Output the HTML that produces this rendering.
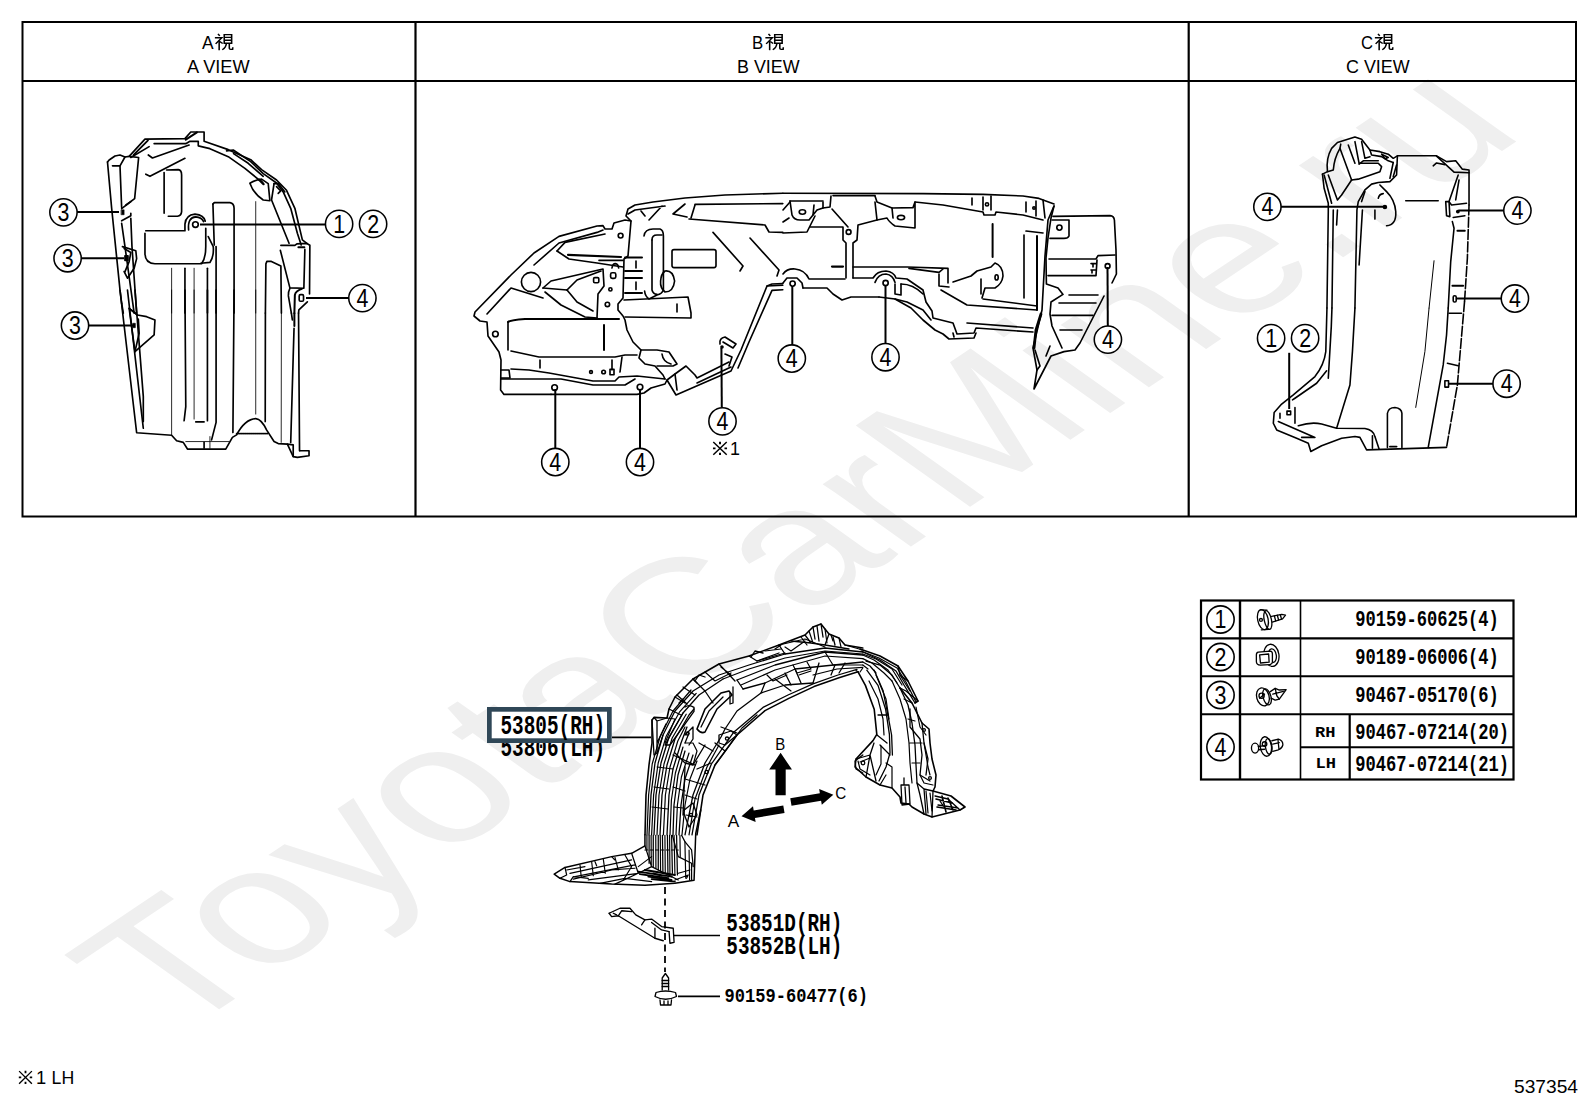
<!DOCTYPE html>
<html><head><meta charset="utf-8"><title>537354</title>
<style>
html,body{margin:0;padding:0;background:#fff;}
body{width:1592px;height:1099px;overflow:hidden;font-family:"Liberation Sans",sans-serif;}
svg{display:block;}
svg text{font-family:"Liberation Sans",sans-serif;fill:#000;}
.mono{font-family:"Liberation Mono",monospace;}
.ln{fill:none;stroke:#000;stroke-linecap:round;stroke-linejoin:round;}
</style></head><body>
<svg width="1592" height="1099" viewBox="0 0 1592 1099">
<!-- 00_watermark.svg -->
<g transform="translate(796,549.5) scale(1.4486,1) rotate(-44.1)">
<text x="1.7" y="53" text-anchor="middle" font-size="164.8" style="fill:#efefef">ToyotaCarMine.ru</text>
</g>

<!-- 01_frame.svg -->
<g fill="none" stroke="#000">
<rect x="22.5" y="22" width="1553.5" height="494.5" stroke-width="2"/>
<line x1="22" y1="81" x2="1576" y2="81" stroke-width="2"/>
<line x1="415.5" y1="22" x2="415.5" y2="516" stroke-width="2.2"/>
<line x1="1188.7" y1="22" x2="1188.7" y2="516" stroke-width="2.2"/>
</g>
<defs>
<g id="kanji" fill="none" stroke="#000" stroke-width="8" stroke-linecap="butt">
<path d="M22,2 L31,14"/>
<path d="M6,25 L42,25 L10,62"/>
<path d="M28,42 L28,100"/>
<path d="M31,48 L46,60"/>
<path d="M54,6 L92,6 L92,58 L54,58 Z"/>
<path d="M54,23 L92,23 M54,40 L92,40"/>
<path d="M65,58 Q64,84 44,97"/>
<path d="M80,58 L80,88 Q80,95 87,95 L97,95 L98,82"/>
</g>
<g id="komeg" fill="none" stroke="#000" stroke-width="9">
<path d="M8,8 L92,92 M92,8 L8,92"/>
<path d="M50,6 L50,22 M50,78 L50,94 M6,50 L22,50 M78,50 L94,50" stroke-width="12"/>
</g>
</defs>
<g font-size="18.9">
<text x="202" y="48.8" font-size="18.4" textLength="11.6" lengthAdjust="spacingAndGlyphs">A</text><use href="#kanji" transform="translate(213.7,33.6) scale(0.195,0.166)"/>
<text x="187" y="72.5" textLength="62.6" lengthAdjust="spacingAndGlyphs">A VIEW</text>
<text x="752" y="48.8" font-size="18.4" textLength="11.2" lengthAdjust="spacingAndGlyphs">B</text><use href="#kanji" transform="translate(764.2,33.6) scale(0.195,0.166)"/>
<text x="737" y="72.5" textLength="62.6" lengthAdjust="spacingAndGlyphs">B VIEW</text>
<text x="1361" y="48.8" font-size="18.4" textLength="12" lengthAdjust="spacingAndGlyphs">C</text><use href="#kanji" transform="translate(1373.7,33.6) scale(0.195,0.166)"/>
<text x="1346" y="72.5" textLength="63.6" lengthAdjust="spacingAndGlyphs">C VIEW</text>
</g>

<!-- 02_table.svg -->
<g fill="none" stroke="#000">
<rect x="1201" y="600.5" width="312.5" height="179" stroke-width="2.2"/>
<line x1="1240" y1="600" x2="1240" y2="780" stroke-width="2.4"/>
<line x1="1300.5" y1="600" x2="1300.5" y2="780" stroke-width="1.6"/>
<line x1="1349.7" y1="714" x2="1349.7" y2="780" stroke-width="2.2"/>
<line x1="1201" y1="638.3" x2="1513" y2="638.3" stroke-width="2.2"/>
<line x1="1201" y1="676.3" x2="1513" y2="676.3" stroke-width="2"/>
<line x1="1201" y1="714.3" x2="1513" y2="714.3" stroke-width="2"/>
<line x1="1300.5" y1="747.3" x2="1513" y2="747.3" stroke-width="2"/>
</g>
<g fill="none" stroke="#000" stroke-width="1.6">
<circle cx="1220.5" cy="619.5" r="13.65"/>
<circle cx="1220.5" cy="657" r="13.65"/>
<circle cx="1220.5" cy="695" r="13.65"/>
<circle cx="1220.5" cy="747" r="13.65"/>
</g>
<g class="cn" font-size="24.9" text-anchor="middle">
<text transform="translate(1220.5,628.10) scale(0.86,1)">1</text>
<text transform="translate(1220.5,665.60) scale(0.86,1)">2</text>
<text transform="translate(1220.5,703.60) scale(0.86,1)">3</text>
<text transform="translate(1220.5,755.60) scale(0.86,1)">4</text>
</g>
<g class="mono" font-weight="bold" font-size="16.8">
<text class="mono" transform="translate(1355.3,626.4) scale(1,1.32)" textLength="143.5" lengthAdjust="spacingAndGlyphs">90159-60625(4)</text>
<text class="mono" transform="translate(1355.3,664.4) scale(1,1.32)" textLength="143.5" lengthAdjust="spacingAndGlyphs">90189-06006(4)</text>
<text class="mono" transform="translate(1355.3,702.0) scale(1,1.32)" textLength="143.5" lengthAdjust="spacingAndGlyphs">90467-05170(6)</text>
<text class="mono" transform="translate(1355.3,738.5) scale(1,1.32)" textLength="153.7" lengthAdjust="spacingAndGlyphs">90467-07214(20)</text>
<text class="mono" transform="translate(1355.3,770.5) scale(1,1.32)" textLength="153.7" lengthAdjust="spacingAndGlyphs">90467-07214(21)</text>
</g>
<g class="mono" font-weight="bold" font-size="15.5">
<text class="mono" x="1315" y="736.6" textLength="20.5" lengthAdjust="spacingAndGlyphs">RH</text>
<text class="mono" x="1315.5" y="768" textLength="20.5" lengthAdjust="spacingAndGlyphs">LH</text>
</g>

<!-- 03_icons.svg -->
<g class="ln" transform="translate(1240,600) scale(0.16367)" stroke-width="8">
<!-- screw -->
<ellipse cx="140" cy="120" rx="32" ry="62" transform="rotate(-12 140 120)"/>
<ellipse cx="170" cy="122" rx="22" ry="58" transform="rotate(-12 170 122)"/>
<circle cx="128" cy="122" r="9"/>
<path d="M125,60 L165,62 M130,182 L175,180"/>
<path d="M193,100 L255,88 L278,92 L260,115 L197,135"/>
<path d="M210,97 L218,128 M228,93 L236,122 M246,90 L254,117"/>
<!-- clip nut -->
<ellipse cx="192" cy="338" rx="46" ry="68" transform="rotate(-8 192 338)"/>
<ellipse cx="198" cy="340" rx="24" ry="42" transform="rotate(-8 198 340)"/>
<path d="M112,318 L185,312 Q198,314 198,328 L198,380 Q196,394 182,395 L125,398 Q100,396 100,375 L100,335 Q100,320 112,318 Z" fill="#fff"/>
<path d="M120,335 L175,330 L178,380 L125,385 Z"/>
<!-- push rivet -->
<ellipse cx="140" cy="592" rx="38" ry="56" transform="rotate(-15 140 592)"/>
<ellipse cx="165" cy="592" rx="24" ry="50" transform="rotate(-15 165 592)"/>
<circle cx="132" cy="585" r="16"/>
<path d="M120,600 L150,575"/>
<path d="M185,560 L215,540 L240,550 L282,548 L240,605 L215,612 L190,600"/>
<path d="M200,575 L265,558 M215,540 L225,585 L240,605"/>
<!-- pin rivet -->
<ellipse cx="92" cy="905" rx="22" ry="30"/>
<ellipse cx="158" cy="895" rx="34" ry="60" transform="rotate(-8 158 895)"/>
<ellipse cx="175" cy="895" rx="20" ry="48" transform="rotate(-8 175 895)"/>
<path d="M112,895 L150,890 M114,915 L150,912"/>
<circle cx="150" cy="880" r="14"/>
<path d="M195,860 L235,850 Q262,858 262,885 Q258,905 235,915 L200,925"/>
<path d="M232,852 L238,912 M200,880 L240,872"/>
</g>

<!-- 10_viewA.svg -->
<g class="ln" transform="translate(95,130) scale(0.16656)" stroke-width="10">
<!-- outer top outline -->
<path d="M75,192 L85,180 L120,156 L150,150 L180,162 L205,158 L300,55 L540,52 L575,12 L655,12 L655,68 L800,118 L935,178 L1000,238 L1090,300 L1150,362 L1200,470 L1245,660 L1272,681"/>
<path d="M545,58 L612,14" stroke-width="12"/>
<path d="M355,82 L545,82 L570,68 L620,68 L620,95 L690,112 L800,160 L900,230 L985,300"/>
<path d="M790,125 L830,120 L935,190 L1010,262 L1090,318 L1130,372 L1175,470 L1215,620 L1238,690"/>
<path d="M832,142 L920,200 L1010,278"/>
<path d="M215,165 L325,100" />
<path d="M232,150 L318,62" stroke-width="11"/>
<!-- left top block -->
<path d="M75,192 L100,470 L150,960 L160,1040"/>
<path d="M105,215 L150,215 L180,162"/>
<path d="M150,215 L160,465"/>
<path d="M205,158 L262,165 L238,412 L185,452 L160,472"/>
<path d="M185,452 L215,430"/>
<!-- crease lines -->
<path d="M320,150 L345,168 L565,90"/>
<path d="M305,265 L330,278 L540,170"/>
<!-- slot upper left -->
<path d="M415,255 L415,500"/>
<path d="M430,240 L500,238 Q520,240 520,270 L520,490 Q518,515 495,518 L440,518"/>
<!-- pocket -->
<path d="M305,605 L540,605 L540,565 Q545,510 600,505 Q655,510 662,548"/>
<path d="M300,620 L300,740 Q300,800 360,803 L640,803 Q665,770 665,700 L665,590"/>
<path d="M635,800 L690,795 Q715,760 710,700 L680,640"/>
<circle cx="603" cy="568" r="17"/>
<path d="M562,600 Q555,525 605,522 Q640,525 652,550"/>
<!-- center slot -->
<path d="M708,445 L716,436 L810,436 Q835,440 835,470 L835,1099"/>
<path d="M708,445 L716,690"/>
<path d="M727,700 L727,1099"/>
<path d="M965,430 L965,1099" stroke-width="5"/>
<path d="M460,830 L460,1099" stroke-width="5"/>
<path d="M540,830 L540,1099"/>
<path d="M595,830 L595,1099" stroke-width="5"/>
<path d="M675,830 L675,1099"/>
<!-- right wedge -->
<path d="M930,320 Q960,300 1000,295 L1040,322 L1050,425 L1010,420 Q950,380 930,320"/>
<path d="M985,298 L1012,325 L1000,310 Z" stroke-width="14"/>
<path d="M1075,322 L1100,320 L1140,372"/>
<path d="M1075,322 L1060,420 L1165,680"/>
<path d="M1090,340 L1115,365 L1100,380"/>
<!-- right lower -->
<path d="M1116,693 L1200,693 L1212,684 L1272,681 L1290,692 L1288,984"/>
<path d="M1221,704 L1257,704" stroke-width="12"/>
<path d="M1113,723 L1170,948 L1254,950 L1260,717"/>
<path d="M1170,951 Q1158,975 1161,996 L1179,1099"/>
<path d="M1242,954 Q1205,965 1200,990 L1197,1099" stroke-width="12"/>
<rect x="1226" y="988" width="26" height="40" rx="8"/>
<path d="M1275,1032 L1224,1080 L1222,1099"/>
<path d="M1023,1099 L1026,804 L1032,789 L1059,789 L1116,816 L1119,1099"/>
<!-- left tabs -->
<rect x="158" y="479" width="17" height="30" fill="#000" stroke-width="3"/>
<path d="M160,545 L215,515 L215,500"/>
<path d="M165,700 L245,725 L250,772 L235,830 L195,890 L175,850"/>
<path d="M175,712 L215,735 L205,790 L180,850"/>
<rect x="180" y="755" width="18" height="28" fill="#000"/>
<path d="M160,560 L180,700 L235,1099"/>
<path d="M215,530 L222,700 L250,1099"/>
<path d="M160,1040 L170,1099"/>
</g>
<g class="ln" transform="translate(95,290) scale(0.16656)" stroke-width="10">
<path d="M150,0 L250,857 L460,872 L490,905 L530,915 L555,955 L785,955 L825,885 L850,870 Q900,775 965,772 Q1000,775 1030,840 L1075,910 L1100,922 L1155,925 L1190,1000 L1215,1005 L1285,995 L1285,965 L1230,965"/>
<path d="M195,0 L290,830" />
<path d="M240,0 L290,640 L290,790" />
<path d="M205,110 L240,370 L355,270 L360,180 L310,160 L255,150 Z"/>
<path d="M205,110 L255,150"/>
<path d="M260,175 L265,260 L240,370"/>
<rect x="228" y="200" width="14" height="26" fill="#000" stroke-width="4"/>
<path d="M460,0 L460,872" stroke-width="5"/>
<path d="M540,0 L545,700 L535,785"/>
<path d="M595,0 L595,775" stroke-width="5"/>
<path d="M675,0 L675,785"/>
<path d="M727,0 L727,795 L700,900"/>
<path d="M835,0 L828,855"/>
<path d="M965,0 L965,745" stroke-width="5"/>
<path d="M1023,139 L1022,790"/>
<path d="M1119,139 L1118,915" stroke-width="5"/>
<path d="M1179,139 L1185,180"/>
<path d="M1197,139 L1197,216" stroke-width="12"/>
<path d="M1195,230 L1190,400 L1175,915"/>
<path d="M1222,139 L1228,965"/>
<path d="M605,792 L655,792" stroke-width="10"/>
<path d="M545,910 L805,910" stroke-width="5"/>
<path d="M655,915 L655,950" stroke-width="10"/>
<path d="M690,880 L690,950" stroke-width="5"/>
<path d="M850,862 L1040,862" stroke-dasharray="6,6"/>
<path d="M1155,925 L1190,930 L1190,1000"/>
</g>

<!-- 20_viewB.svg -->
<g class="ln" transform="translate(465,190) scale(0.2)" stroke-width="8.2">
<!-- outer outline left part -->
<path d="M1589,16 L1300,25 L1100,40 L940,60 L850,75 L815,95 L805,130 L830,155 L800,150 L745,165 L735,195 L700,195 L690,178 L660,180 L470,232 L345,315 L230,425 L50,610 L45,630 L75,655 L110,660 L115,730 L170,810 L180,850 L178,1000 L195,1022 L430,1022"/>
<path d="M430,1022 L860,1022 L895,1015 L930,990 L1000,970 L1010,950 L1055,1025 L1330,905 L1380,800 L1510,480 L1589,476"/>
<circle cx="448" cy="988" r="14" fill="#fff"/>
<circle cx="875" cy="985" r="14" fill="#fff"/>
<!-- top inner -->
<path d="M1150,72 L1589,68"/>
<path d="M1120,145 L1500,175 L1520,210 L1589,212"/>
<path d="M850,100 L1000,80 M880,105 L900,130 M985,80 L920,150 M1100,70 L1040,120 L1110,135 M1150,75 L1130,140 M815,120 L850,100"/>
<!-- left wing inner -->
<path d="M345,375 L470,265 L660,212 L690,200"/>
<path d="M110,620 L230,490 L390,540"/>
<path d="M460,305 L500,262 L700,220"/>
<path d="M460,305 L520,345 L660,365 L790,385"/>
<path d="M515,324 L780,335" stroke-width="11"/>
<path d="M670,352 L790,352"/>
<circle cx="330" cy="460" r="48"/>
<path d="M390,490 L430,455 L690,395 L695,480 L665,520 L660,640"/>
<path d="M390,490 L510,500"/>
<path d="M400,510 L480,575 L600,635 L660,640"/>
<path d="M510,500 L560,450 L680,405"/>
<path d="M510,500 L560,560 L640,605"/>
<circle cx="778" cy="228" r="12"/>
<path d="M735,390 Q738,368 752,368 Q766,370 768,390"/>
<rect x="728" y="414" width="26" height="28" rx="8"/>
<rect x="643" y="438" width="26" height="26" rx="6"/>
<circle cx="727" cy="497" r="8"/>
<circle cx="712" cy="572" r="11"/>
<circle cx="152" cy="720" r="14"/>
<path d="M830,155 L815,330 L795,345 L790,540 L765,570 L765,600 L790,630 L800,650 L810,700 L840,760 L880,800 L870,840 L900,870 L950,880 L990,925 L1000,945"/>
<path d="M215,660 Q225,650 300,645 L770,645" stroke-width="10"/>
<path d="M215,660 L215,800"/>
<path d="M230,805 L370,835 L750,835 L800,825 L860,825"/>
<path d="M695,675 L695,800" stroke-width="10"/>
<path d="M375,850 L375,890 M735,850 L735,900 M785,835 L775,910"/>
<path d="M180,900 L220,900 L225,940 L180,940"/>
<path d="M230,895 L320,900 L420,915 L640,955 L750,955 L770,935 L860,930 L1000,945"/>
<path d="M180,945 L480,945 L640,975 L800,975 L850,945"/>
<circle cx="630" cy="910" r="7"/>
<circle cx="693" cy="910" r="9"/>
<rect x="725" y="896" width="20" height="28"/>
<!-- middle -->
<path d="M895,230 Q900,195 940,195 L975,195 Q992,200 992,230 L992,500 Q985,520 960,525 L920,545 Q900,530 898,505"/>
<path d="M935,250 Q935,225 960,225 L985,225"/>
<path d="M935,250 L935,500 Q940,520 960,522"/>
<path d="M800,338 L885,338 M800,405 L885,405 M800,440 L885,440 M800,515 L885,515" stroke-width="10"/>
<path d="M855,355 L855,390 M855,460 L855,498"/>
<rect x="1035" y="298" width="220" height="90" rx="10"/>
<path d="M1000,405 Q1040,400 1048,455 Q1042,510 1000,510 Q975,490 978,455 Q980,420 1000,405"/>
<path d="M795,550 L1115,535 L1130,615 L1130,640 L800,635"/>
<path d="M1060,570 L1060,610"/>
<path d="M1240,212 L1390,380 L1375,405"/>
<path d="M1425,240 L1570,400 L1560,430"/>
<path d="M1510,480 L1535,470 L1589,468"/>
<path d="M1365,890 L1420,760 L1535,502 L1589,499"/>
<path d="M880,800 L960,800 L1020,810 L1060,870 L1040,880 L960,880"/>
<path d="M985,820 Q990,860 1030,870"/>
<path d="M1010,950 L1050,920 L1105,880 L1150,925 L1160,940 L1320,860"/>
<path d="M1050,920 L1060,1000"/>
<path d="M1160,965 L1330,885"/>
<path d="M1275,770 Q1270,740 1300,735 L1355,770 L1340,790 L1290,760"/>
<circle cx="1285" cy="785" r="5" fill="#000"/>
<path d="M1300,820 L1335,835 L1320,880"/>
</g>
<g class="ln" transform="translate(783,190) scale(0.2)" stroke-width="8.2">
<path d="M0,16 L700,18 L1000,22 L1200,30 L1280,42 L1355,70"/>
<path d="M250,28 L460,28"/>
<path d="M660,60 L800,75 L1000,110 L1005,125 L1060,125 L1065,110 L1200,125 L1300,150"/>
<!-- left bracket -->
<path d="M35,55 L45,125 Q55,150 85,150 L130,150 L170,100 L200,90 L235,85 L240,30"/>
<path d="M35,55 L200,55"/>
<path d="M0,100 L35,60 M0,160 L30,140"/>
<path d="M0,215 L120,210 L160,130"/>
<ellipse cx="97" cy="110" rx="16" ry="11"/>
<path d="M155,75 L150,125 M200,60 L200,90"/>
<!-- center bracket -->
<path d="M245,95 L325,185"/>
<circle cx="328" cy="210" r="12"/>
<path d="M460,30 L470,60 L545,90 L550,140"/>
<path d="M460,60 L470,150 L375,175 L370,250 L350,265 L350,440"/>
<path d="M135,185 L300,185 L300,250 L315,265 L315,440"/>
<!-- right bracket -->
<path d="M545,90 L650,88 L660,60 L660,190 L560,180 Q530,160 520,140 L470,150"/>
<ellipse cx="590" cy="138" rx="18" ry="11"/>
<!-- verticals -->
<path d="M1048,170 L1048,335" stroke-width="10"/>
<path d="M1205,225 L1205,540"/>
<path d="M1270,230 L1270,600" stroke-width="10"/>
<path d="M1215,205 L1300,215"/>
<path d="M945,40 L945,75 M1000,35 L1000,100 M1040,30 L1040,100 M1215,60 L1215,110 M1265,55 L1265,130 M1300,50 L1310,140"/>
<circle cx="1020" cy="72" r="8"/>
<circle cx="1255" cy="90" r="6"/>
<!-- lower mid -->
<path d="M350,385 L620,385 L825,392 L825,465"/>
<path d="M630,392 L780,412 L800,395"/>
<path d="M780,420 L780,480 L830,485"/>
<path d="M790,500 L920,575 L1270,600"/>
<path d="M850,460 L940,430 L970,405 L1040,385 L1060,365 Q1100,380 1100,430 Q1095,470 1060,490 L1010,490 L995,540"/>
<ellipse cx="1068" cy="437" rx="8" ry="13"/>
<path d="M990,445 L990,520"/>
<path d="M1000,545 L1270,580"/>
<!-- arches -->
<path d="M0,420 Q20,392 60,395 Q110,400 130,445 L310,445"/>
<circle cx="48" cy="468" r="13"/>
<path d="M0,465 L20,440 L70,440 L95,465 L100,490"/>
<path d="M100,490 L220,490 L250,520 L295,550 L340,535 L480,535"/>
<path d="M245,383 L300,383" stroke-width="11"/>
<path d="M350,440 L450,440 Q470,405 515,405 Q555,410 565,440 L620,445 L700,500 L715,560 L745,605 L750,640 L850,665 L870,720 L955,715 L965,690 L1250,710"/>
<circle cx="513" cy="465" r="13"/>
<path d="M460,462 Q475,420 515,420 Q550,425 560,462"/>
<path d="M480,535 L560,545 L640,590 L700,650 L760,700 L800,720 L830,745 L955,740 L965,715"/>
<path d="M560,470 L560,520 L590,525 L590,470"/>
<path d="M560,545 L620,560 L700,600 L740,650"/>
<path d="M590,470 Q650,470 700,520"/>
<path d="M920,665 L1250,690"/>
<path d="M850,715 L855,735"/>
</g>
<g class="ln" transform="translate(960,190) scale(0.2)" stroke-width="8.2">
<path d="M465,132 L750,128 Q770,130 772,150 L780,300 L782,420 L760,465"/>
<path d="M460,150 L545,150 L545,230 Q540,242 520,242 L450,242"/>
<circle cx="497" cy="188" r="13"/>
<path d="M445,345 L680,345 L690,328 L775,325"/>
<path d="M440,428 L680,428 L685,350"/>
<path d="M655,368 L680,368 M655,400 L680,400 M665,368 L665,385 M660,400 L660,415"/>
<circle cx="738" cy="380" r="12" fill="#fff"/>
<path d="M470,80 L455,140 L440,240 L430,340 L432,470 L490,490 L515,522 L455,560 L450,620 L460,680 L510,790"/>
<path d="M470,80 L440,150 L425,330 L410,600 L365,790 L385,900 L370,995 L455,830 L520,808 L575,800 L600,765 L720,530"/>
<path d="M545,525 L690,525 M495,565 L680,565 M460,627 L665,627 M500,700 L610,700"/>
<path d="M405,620 L380,700 L370,790" stroke-width="14"/>
<path d="M375,800 L400,880 L385,900"/>
<path d="M450,780 L430,830"/>
</g>

<!-- 30_viewC.svg -->
<g class="ln" transform="translate(1255,125) scale(0.16656)" stroke-width="9.5">
<path d="M405,295 L435,280 Q425,200 460,140 L495,105 L600,72 L640,85 L690,150 L750,160 L800,175 L830,200 L855,185 L1090,185 L1150,220 L1205,215 L1245,265 L1285,270 L1285,480"/>
<path d="M405,295 L415,380 L440,470 L440,520 L432,1099"/>
<path d="M435,280 L470,270 Q475,200 510,140 L515,115"/>
<path d="M510,140 L580,330"/>
<path d="M560,120 L600,230"/>
<path d="M600,100 L625,230 L740,230 L760,250 L750,280 L620,325 L580,330"/>
<path d="M640,100 L660,200 L690,190"/>
<path d="M690,150 L700,180 L760,190 L800,215 L830,225"/>
<path d="M625,235 L650,215 L740,215"/>
<path d="M760,175 L800,195 L780,202 Z"/>
<path d="M855,185 L850,300 L810,340 L740,345 L700,355 L660,390 L620,460 L612,510 L600,1099"/>
<path d="M830,225 L810,320 M850,240 L830,310"/>
<path d="M415,300 L460,470"/>
<path d="M440,300 L495,450 L520,420 L560,360 L580,330"/>
<path d="M470,510 L462,1099"/>
<path d="M495,510 L490,600"/>
<path d="M645,510 L625,840"/>
<path d="M660,400 L640,460"/>
<path d="M750,360 L790,400 Q840,450 845,520 Q850,600 790,605"/>
<path d="M740,440 Q745,415 770,412"/>
<path d="M720,510 L720,565"/>
<circle cx="780" cy="492" r="9" fill="#000"/>
<path d="M905,455 L1100,455"/>
<path d="M1090,187 L1195,283 L1285,287"/>
<path d="M1070,245 L1090,228 L1140,238"/>
<path d="M1220,300 L1165,460 L1180,480 L1270,470"/>
<path d="M1225,330 L1205,450"/>
<path d="M1145,460 L1165,460 L1170,550 L1150,545 Z"/>
<circle cx="1218" cy="520" r="7" fill="#000"/>
<path d="M1190,555 L1260,545"/>
<path d="M1215,635 L1260,635" stroke-width="11"/>
<path d="M1185,580 L1195,620 L1175,820 L1160,1099"/>
<path d="M1285,480 L1275,800 L1258,1060" stroke-dasharray="60,14"/>
<path d="M1185,965 L1250,965" stroke-width="11"/>
<rect x="1190" y="1025" width="18" height="38" rx="8"/>
<path d="M1075,815 L1045,1099" stroke-width="6"/>
</g>
<g class="ln" transform="translate(1255,285) scale(0.16656)" stroke-width="9.5">
<path d="M432,139 L425,400 Q415,480 360,550 L230,660 L160,715 L115,765 L110,830 L130,870 L250,920 L320,950 L335,1000 L400,965 L520,920 L600,910 L630,915 L670,990 L1150,975"/>
<path d="M462,139 L458,250 L440,560"/>
<path d="M430,515 L370,590 L240,680 L225,690"/>
<path d="M600,139 L585,400 L570,600 L490,860"/>
<path d="M1045,139 L1020,400 L965,735" stroke-width="6"/>
<path d="M1160,139 L1150,300 L1130,480 L1040,975"/>
<path d="M1258,100 L1215,600 L1150,975" stroke-dasharray="60,14"/>
<path d="M1165,170 L1240,170"/>
<path d="M1155,470 L1220,485"/>
<rect x="1140" y="575" width="22" height="38"/>
<path d="M260,845 Q340,820 400,835 L490,860 L660,862 Q710,870 720,910 L745,985"/>
<path d="M140,820 L360,915 L280,915"/>
<path d="M150,770 L150,800 M240,735 L240,830 M705,905 L705,980"/>
<path d="M795,975 L795,770 Q800,735 840,735 Q880,740 882,770 L882,975"/>
<path d="M810,970 L850,970" stroke-width="11"/>
<rect x="192" y="757" width="22" height="22" fill="#fff"/>
</g>

<!-- 40_main.svg -->
<g class="ln" transform="translate(545,615) scale(0.2)" stroke-width="6.5">
<path d="M500,1099 L505,900 L520,750 L535,640 L535,525 L545,512 L610,515 L620,470 L650,410 L740,320 L870,245 L1020,205 L1170,150 L1300,100 L1340,60 L1380,45 L1420,95 L1470,115 L1500,150 L1589,165" stroke-width="8"/>
<path d="M535,525 L545,700 L560,690 L560,530 L610,515 M560,530 L545,512 M560,640 L605,545"/>
<path d="M520,1099 L530,900 L550,740 L590,600 L650,480 L740,380 L870,300 L1020,250 L1200,195 L1400,165 L1589,185"/>
<path d="M545,1099 L555,900 L580,740 L620,610 L690,490 L770,400 L890,320"/>
<path d="M575,1099 L585,900 L610,750 L650,620 L720,500 L745,470"/>
<path d="M610,1099 L620,900 L640,770 L680,640 L710,560"/>
<path d="M640,1099 L645,950 L665,800 L700,680"/>
<path d="M670,1099 L680,950 L700,820 L740,700"/>
<path d="M700,460 Q720,445 745,462 L745,482 L625,650 L600,650 L690,490"/>
<path d="M760,570 L800,470 L880,390 L920,380 L935,400 L860,470 L800,585 Q780,595 760,570" stroke-width="8"/>
<path d="M780,560 L820,480 L890,410"/>
<path d="M960,325 L1150,250 L1400,185 L1589,200"/>
<path d="M990,370 L1100,340 L1250,270 L1589,235"/>
<path d="M960,325 L990,370 M940,360 L940,440 L925,445 L925,390"/>
<path d="M760,1099 L790,900 L850,750 L960,600 L1100,478 L1219,417 L1345,358 L1470,314 L1565,284" stroke-width="8"/>
<path d="M735,1099 L770,900 L832,745 L942,588 L1090,462 L1215,400 L1340,344 L1465,300 L1560,272"/>
<path d="M700,1099 L740,900 L800,740 L880,610 L900,570 L960,480 L1080,390 L1200,350 L1340,340"/>
<path d="M660,400 L710,445 M740,320 L800,380 L840,440 M870,245 L950,330 M690,420 L670,440 M880,560 L960,590 M850,640 L900,680 M830,740 L760,770 M770,640 L840,680 M640,700 L750,750 M700,820 L800,850 M1020,205 L1060,230 L1170,190 M1170,150 L1200,195 M880,260 L930,300 M1100,340 L1080,390 M1200,290 L1230,350 M1250,270 L1280,340 M1340,340 L1370,240 M1450,250 L1430,300 M1500,240 L1470,290"/>
<path d="M1300,100 L1330,140 L1400,150 M1340,60 L1350,120 M1380,45 L1390,110 M1420,95 L1400,150 M1360,55 L1370,130 M1230,130 L1330,140 M1400,150 L1520,170 M1440,110 L1450,150"/>
<path d="M1030,210 L1050,180 L1090,190 M750,330 L770,300 L800,310 M1150,170 L1180,150"/>
<path d="M700,600 L740,560 L740,620 L720,650 M650,690 L700,740 L740,750 L800,650 M700,760 L690,1000 M740,940 L690,980 L720,1060 L760,1000 Z M720,590 L700,640"/>
<path d="M870,600 L930,580 L960,600 L900,650 L870,640 Z"/>
<circle cx="910" cy="618" r="8"/><circle cx="808" cy="785" r="8"/><circle cx="730" cy="1000" r="8"/><circle cx="712" cy="592" r="8"/>
<path d="M1550,730 L1589,700 M1550,730 L1555,770 L1589,790"/>
</g>
<g class="ln" transform="translate(700,615) scale(0.2)" stroke-width="6.5">
<path d="M800,170 L900,205 L990,255 L1040,330 L1090,430 L1075,440" stroke-width="8"/>
<path d="M1000,365 L1060,440 L1110,540 L1145,570 L1150,640 L1160,720 L1180,800 L1175,860 L1165,880 L1255,905 L1325,960 L1300,975 L1160,1010 L1120,995 L1060,960 L1045,945" stroke-width="8"/>
<path d="M790,284 L827,352 L871,471 L884,597 L865,628 L780,720 L775,760 L830,810 L900,850 L960,865 L1000,910 L1005,940 L1045,945" stroke-width="8"/>
<path d="M834,276 L890,352 L928,471 L947,597 L950,690 L930,760 L895,830"/>
<path d="M871,276 L915,377 L940,502 L958,600 L962,700"/>
<path d="M1000,365 L1040,450 L1060,540 L1075,650 L1080,750 L1085,840 L1100,900 L1120,995"/>
<path d="M1050,470 L1050,560 L1100,620 L1110,700 L1100,800 L1150,830"/>
<path d="M814,185 L900,225 L980,280 L1020,350 L1075,440"/>
<path d="M830,230 L900,250 L960,300 L1000,365"/>
<path d="M1005,850 L1045,850 L1050,945 L1010,950 Z M1020,815 L1020,850 M1025,860 L1030,940"/>
<path d="M1165,880 L1160,1010 M1175,905 L1240,920 L1300,975 M1190,950 L1290,965 M1120,870 L1130,995 M1200,930 L1220,960 M1085,840 L1120,870 L1165,880"/>
<circle cx="815" cy="740" r="9"/><circle cx="1120" cy="575" r="7"/><circle cx="1150" cy="815" r="7"/>
<path d="M780,720 L850,700 L870,640 M850,700 L880,830 M830,810 L850,700 M885,600 L935,640 M890,500 L940,500 M900,650 L950,700"/>
<path d="M1110,540 L1120,640 L1140,720 L1130,800 M1000,365 L1030,380 L1090,430 M990,255 L1000,300 L1040,330"/>
</g>
<g class="ln" transform="translate(545,800) scale(0.16656)" stroke-width="7.5">
<path d="M600,209 L600,275 L520,320 L400,340 L120,405 L55,445 L90,470 L150,490 L400,505 L600,512 L780,500 L895,482 L905,200 L935,60" stroke-width="9"/>
<path d="M625,212 L625,380 M650,212 L650,400 M680,212 L680,420 M705,212 L708,440 M735,212 L738,440 M760,212 L765,440 M790,212 L795,450"/>
<path d="M600,275 L640,400 L560,440 M520,320 L560,440 L420,505 M120,405 L130,450 L90,470 M150,440 L520,360 M180,460 L540,390 M260,480 L560,440 M400,340 L420,360 M300,370 L310,395"/>
<path d="M560,430 L760,460 M570,445 L740,470 M600,420 L780,450" stroke-width="12"/>
<path d="M820,212 L840,250 L880,300 L890,400 M800,340 L880,380 L880,480 M640,400 L800,480 M765,212 L800,340"/>
<path d="M150,490 L170,460 L260,470 M330,500 L480,470 L640,490"/>
</g>
<!-- bracket 53851D -->
<g class="ln" transform="translate(545,800) scale(0.16656)" stroke-width="8">
<path d="M385,680 L450,650 L510,650 L545,690 L600,720 L640,715 L700,760 L770,770 L775,855 L750,860 L745,790"/>
<path d="M385,680 L400,700 L440,695 L660,830 L710,845"/>
<path d="M440,695 L460,665 L520,670 M600,720 L580,750 M640,735 L700,780 L745,790 M660,770 L660,830 M410,680 L430,690"/>
</g>
<!-- bolt -->
<g class="ln" stroke-width="1.3">
<path d="M662.2,990 L662.2,978 L665.4,973.5 L668.6,978 L668.6,990"/>
<path d="M662.2,980.5 L668.6,980.5 M662.2,983.5 L668.6,983.5 M662.2,986.5 L668.6,986.5"/>
<path d="M656,992.5 Q665.5,989.5 675.5,992.5 L676.5,996.5 Q665.5,1002 655,996.5 Z" fill="#fff"/>
<path d="M660,1000 L660.5,1005 L671,1005 L671.5,1000 M664,1001 L664,1005 M668,1001 L668,1005"/>
</g>

<!-- 41_main_extra.svg -->
<g class="ln" transform="translate(545,615) scale(0.2)" stroke-width="6">
<path d="M510,1099 L518,900 L536,745 L575,610 L640,480 L730,375"/>
<path d="M533,1099 L543,900 L566,740 L606,606 L672,486 L756,392"/>
<path d="M560,1099 L570,900 L595,745 L636,615 L706,496"/>
<path d="M592,1099 L602,900 L625,760 L664,630 L700,560"/>
<path d="M625,1099 L632,925 L652,790 L690,660"/>
<path d="M655,1099 L662,950 L682,810 L720,690"/>
<path d="M685,1099 L700,950 L725,820 L760,730"/>
<path d="M720,1099 L750,920 L810,760 L870,650"/>
<path d="M890,320 L1020,270 L1200,215 L1400,180 L1589,195"/>
<path d="M980,350 L1150,275 L1400,205 L1589,218"/>
<path d="M1110,300 L1140,330 L1210,300 M1150,320 L1230,380 M1240,250 L1260,290 L1330,270 L1310,235 M1270,300 L1330,280 M1400,185 L1440,250 L1589,250 M1340,300 L1460,270 L1589,262"/>
<path d="M1170,150 L1300,120 L1400,160 M1100,180 L1180,170 M1060,230 L1200,190 M1200,160 L1230,180 L1300,130 M1280,110 L1310,150 M1320,80 L1340,140 M1400,70 L1410,140 M1430,100 L1440,130 M1470,115 L1480,160 M1500,150 L1589,175"/>
<path d="M620,470 L680,500 M650,410 L700,440 M690,360 L750,400 M740,320 L760,340 M800,285 L850,330 L930,290 M610,515 L650,520 L600,640 M560,690 L590,600"/>
<path d="M560,760 L640,770 M545,860 L620,870 M535,960 L615,970 M640,860 L700,880 M645,960 L690,965 M700,900 L760,920 M705,1000 L760,1010 M700,640 L740,640 L760,680 L740,750"/>
<path d="M960,600 L985,565 L1060,500 M850,750 L880,710 L960,600"/>
</g>
<g class="ln" transform="translate(545,800) scale(0.16656)" stroke-width="7">
<path d="M612,212 L612,300 M637,212 L638,390 M665,212 L666,410 M692,212 L694,430 M720,212 L722,440 M748,212 L750,440 M775,212 L780,445 M810,212 L812,340 M840,250 L845,470 M865,300 L868,480"/>
<path d="M600,300 L800,300" stroke-dasharray="18,14"/>
<path d="M560,400 L640,340 M480,330 L520,400 L470,480 M420,345 L440,420 M350,355 L362,440 M280,370 L290,455 M210,390 L218,465 M130,420 L240,400 M170,475 L400,420 L540,410"/>
<path d="M620,460 L760,480 M640,475 L780,490 M650,440 L700,455" stroke-width="10"/>
<path d="M780,480 L860,450 L850,470 M800,440 L870,420"/>
</g>
<g class="ln" transform="translate(700,615) scale(0.2)" stroke-width="6">
<path d="M805,180 L895,215 L985,265 L1030,335 L1080,435"/>
<path d="M845,330 L890,420 L915,520 L920,600 M880,300 L930,420 L945,520 M960,330 L1000,420 L1030,520 L1045,640 L1050,740 L1060,840 M1080,460 L1100,560 L1130,600 M1120,640 L1140,760 L1150,800 M1000,300 L1050,380 M1020,420 L1060,440 M1040,520 L1075,530 M1050,640 L1110,640 M1060,740 L1100,740"/>
<path d="M790,730 L800,770 L850,800 M800,735 L850,715 M905,655 L905,745 L880,800 M930,740 L960,760 L960,865 M900,850 L930,800 M1100,800 L1120,840 L1165,850 M1130,880 L1140,990 M1150,890 L1160,980"/>
<path d="M1180,920 L1260,940 M1185,960 L1280,975 M1210,905 L1230,985 M1240,915 L1265,975" stroke-width="8"/>
</g>

<!-- 42_main_seam.svg -->
<g class="ln" transform="translate(700,615) scale(0.2)" stroke-width="6">
<path d="M814,200 L870,225 L940,275 L985,340"/>
<path d="M814,235 L850,255 L880,290"/>
<path d="M814,218 L860,240 L920,290 L960,330"/>
<path d="M814,250 L840,270 M814,265 L800,285 M814,195 L880,220 L960,270 L1010,350"/>
<path d="M780,278 L790,284"/>
</g>

<!-- 80_callouts.svg -->
<g stroke="#000" stroke-width="2" fill="none">
<line x1="77.0" y1="211.9" x2="119.0" y2="211.9"/>
<line x1="81.3" y1="258.2" x2="124.0" y2="258.2"/>
<line x1="88.7" y1="325.5" x2="133.0" y2="325.5"/>
<line x1="200.0" y1="224.5" x2="325.4" y2="224.5"/>
<line x1="306.0" y1="298.1" x2="348.7" y2="298.1"/>
<line x1="792.3" y1="286.0" x2="792.3" y2="344.8"/>
<line x1="721.4" y1="348.0" x2="721.8" y2="407.6"/>
<line x1="555.3" y1="389.0" x2="555.3" y2="448.3"/>
<line x1="640.0" y1="389.0" x2="640.0" y2="448.3"/>
<line x1="885.5" y1="285.0" x2="885.5" y2="343.5"/>
<line x1="1107.5" y1="267.0" x2="1107.8" y2="326.0"/>
<line x1="1281.0" y1="206.8" x2="1385.0" y2="206.8"/>
<line x1="1458.3" y1="210.6" x2="1503.7" y2="210.6"/>
<line x1="1456.0" y1="298.5" x2="1501.2" y2="298.5"/>
<line x1="1448.0" y1="383.7" x2="1493.0" y2="383.7"/>
<line x1="1289.2" y1="352.8" x2="1289.2" y2="409.0"/>
</g>
<g fill="#fff" stroke="#000" stroke-width="1.55">
<circle cx="63.45" cy="212.35" r="13.65"/>
<circle cx="67.60" cy="258.20" r="13.65"/>
<circle cx="75.00" cy="325.50" r="13.65"/>
<circle cx="339.10" cy="223.90" r="13.65"/>
<circle cx="373.10" cy="223.90" r="13.65"/>
<circle cx="362.40" cy="298.10" r="13.65"/>
<circle cx="791.80" cy="358.50" r="13.65"/>
<circle cx="722.50" cy="421.30" r="13.65"/>
<circle cx="555.30" cy="462.00" r="13.65"/>
<circle cx="640.00" cy="462.00" r="13.65"/>
<circle cx="885.50" cy="357.20" r="13.65"/>
<circle cx="1107.90" cy="339.60" r="13.65"/>
<circle cx="1267.40" cy="206.80" r="13.65"/>
<circle cx="1517.40" cy="210.60" r="13.65"/>
<circle cx="1514.90" cy="298.50" r="13.65"/>
<circle cx="1271.10" cy="338.20" r="13.65"/>
<circle cx="1305.10" cy="338.20" r="13.65"/>
<circle cx="1506.60" cy="383.70" r="13.65"/>
</g>
<g class="cn" font-size="24.9" text-anchor="middle">
<text transform="translate(63.45,220.95) scale(0.86,1)">3</text>
<text transform="translate(67.60,266.80) scale(0.86,1)">3</text>
<text transform="translate(75.00,334.10) scale(0.86,1)">3</text>
<text transform="translate(339.10,232.50) scale(0.86,1)">1</text>
<text transform="translate(373.10,232.50) scale(0.86,1)">2</text>
<text transform="translate(362.40,306.70) scale(0.86,1)">4</text>
<text transform="translate(791.80,367.10) scale(0.86,1)">4</text>
<text transform="translate(722.50,429.90) scale(0.86,1)">4</text>
<text transform="translate(555.30,470.60) scale(0.86,1)">4</text>
<text transform="translate(640.00,470.60) scale(0.86,1)">4</text>
<text transform="translate(885.50,365.80) scale(0.86,1)">4</text>
<text transform="translate(1107.90,348.20) scale(0.86,1)">4</text>
<text transform="translate(1267.40,215.40) scale(0.86,1)">4</text>
<text transform="translate(1517.40,219.20) scale(0.86,1)">4</text>
<text transform="translate(1514.90,307.10) scale(0.86,1)">4</text>
<text transform="translate(1271.10,346.80) scale(0.86,1)">1</text>
<text transform="translate(1305.10,346.80) scale(0.86,1)">2</text>
<text transform="translate(1506.60,392.30) scale(0.86,1)">4</text>
</g>

<!-- 81_labels.svg -->
<g font-size="17">
<use href="#komeg" transform="translate(712,440.8) scale(0.16,0.152)"/>
<text x="730" y="454.8" font-size="17.9">1</text>
<use href="#komeg" transform="translate(17.9,1069.9) scale(0.152,0.151)"/>
<text x="36" y="1083.9" font-size="18.3">1</text>
<text x="51.6" y="1083.9" font-size="18.3" textLength="22.6" lengthAdjust="spacingAndGlyphs">LH</text>
<text x="1514" y="1092.7" font-size="18.9" textLength="64" lengthAdjust="spacingAndGlyphs">537354</text>
<text x="775.3" y="750.3" font-size="16.8" textLength="10" lengthAdjust="spacingAndGlyphs">B</text>
<text x="727.8" y="826.6" font-size="17.2">A</text>
<text x="835.3" y="798.6" font-size="16.8" textLength="11" lengthAdjust="spacingAndGlyphs">C</text>
</g>
<g fill="#000" stroke="none">
<path d="M780.6,752.8 L792,769.6 L785.7,769.6 L785.7,795.2 L775.5,795.2 L775.5,769.6 L769.2,769.6 Z"/>
<g transform="translate(741.5,816.3) rotate(-9.5)"><path d="M0,0 L13,-8 L13,-3.8 L43,-3.8 L43,3.8 L13,3.8 L13,8 Z"/></g>
<g transform="translate(833.3,794.8) rotate(-9.5)"><path d="M0,0 L-13,-8 L-13,-3.8 L-43,-3.8 L-43,3.8 L-13,3.8 L-13,8 Z"/></g>
</g>
<!-- part number labels -->
<g class="mono" font-weight="bold">
<text class="mono" font-size="18.9" transform="translate(500.5,756) scale(1,1.45)" textLength="104.5" lengthAdjust="spacingAndGlyphs">53806(LH)</text>
<rect x="489.35" y="709.35" width="120" height="31.3" fill="#fff" stroke="#2f4757" stroke-width="4.7"/>
<text class="mono" font-size="18.9" transform="translate(500.5,734) scale(1,1.45)" textLength="104.5" lengthAdjust="spacingAndGlyphs">53805(RH)</text>
<text class="mono" font-size="18.9" transform="translate(726.3,931.1) scale(1,1.33)" textLength="116" lengthAdjust="spacingAndGlyphs">53851D(RH)</text>
<text class="mono" font-size="18.9" transform="translate(726.3,953.8) scale(1,1.33)" textLength="116" lengthAdjust="spacingAndGlyphs">53852B(LH)</text>
<text class="mono" font-size="16.8" transform="translate(724.6,1001.6) scale(1,1.22)" textLength="143.3" lengthAdjust="spacingAndGlyphs">90159-60477(6)</text>
</g>
<g stroke="#000" stroke-width="1.7" fill="none">
<line x1="612" y1="737.3" x2="651" y2="737.3"/>
<line x1="674" y1="935.5" x2="720" y2="935.5"/>
<line x1="678" y1="996.3" x2="720" y2="996.3"/>
<line x1="665" y1="887" x2="665" y2="972" stroke-dasharray="7,4.5" stroke-width="1.8"/>
</g>

</svg>
</body></html>
